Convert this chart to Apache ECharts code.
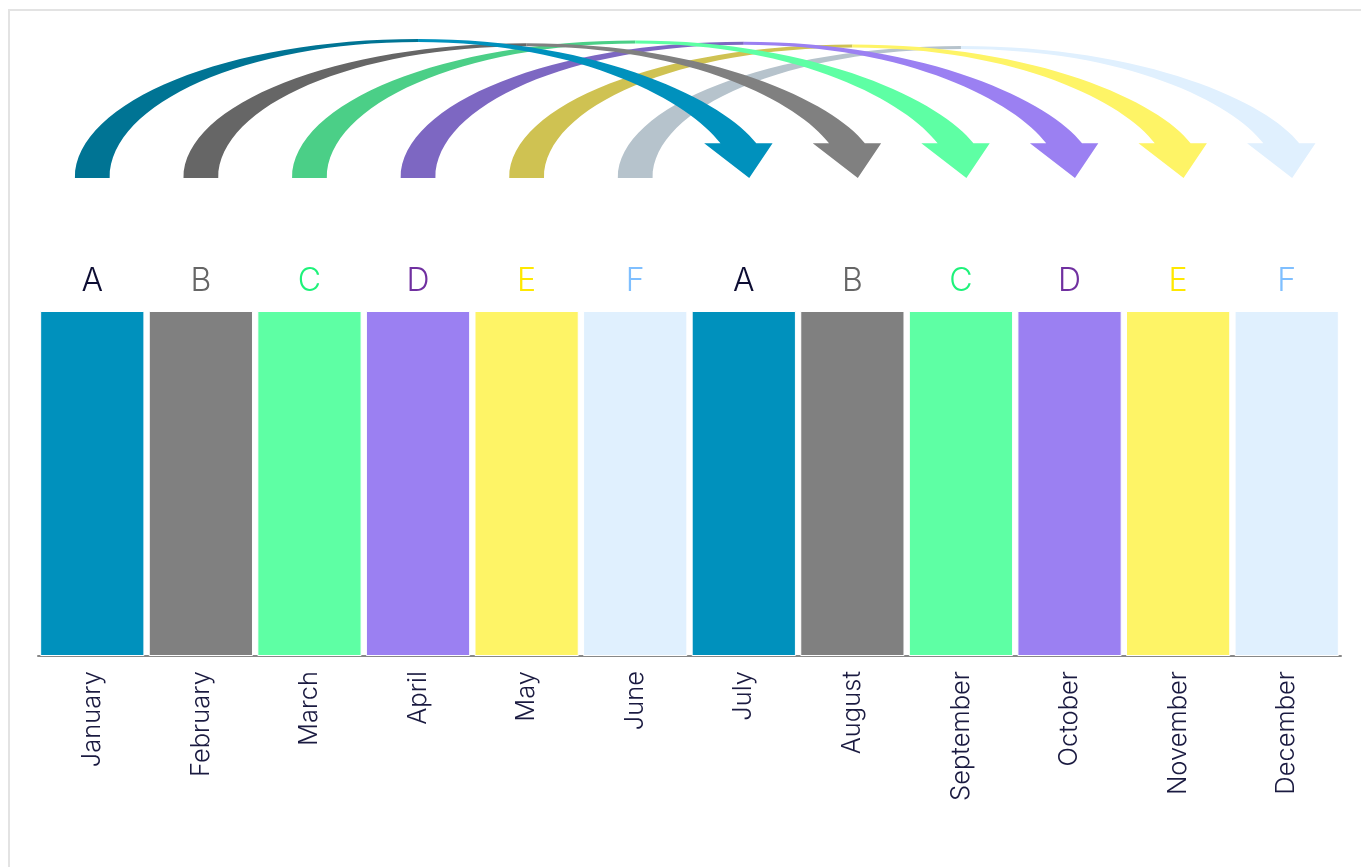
<!DOCTYPE html>
<html>
<head>
<meta charset="utf-8">
<script src="https://cdn.jsdelivr.net/npm/echarts@6/dist/echarts.min.js"></script>
<style>
  html, body { margin: 0; padding: 0; background: #fff; overflow: hidden; }
  #frame { position: absolute; left: 8px; top: 9px; width: 2000px; height: 2000px;
           border-left: 2px solid #e3e3e3; border-top: 2px solid #e3e3e3; }
  #chart { position: absolute; left: 0; top: 0; width: 1361px; height: 867px; }
</style>
</head>
<body>
<div id="frame"></div>
<div id="chart"></div>
<script>
const months = ['January','February','March','April','May','June','July','August','September','October','November','December'];
const groupLabels = ['A','B','C','D','E','F','A','B','C','D','E','F'];
const values = [1,1,1,1,1,1,1,1,1,1,1,1];
const barColors = ['#0091bd','#808080','#5effa4','#9b80f2','#fef466','#e0f0fe','#0091bd','#808080','#5effa4','#9b80f2','#fef466','#e0f0fe'];
const labelColors = ['#0d0d33','#666666','#1ef27a','#7030a0','#ffe800','#7fbfff','#0d0d33','#666666','#1ef27a','#7030a0','#ffe800','#7fbfff'];

const arrowFrom = [0,1,2,3,4,5];
const arrowTo = [6,7,8,9,10,11];
const arrowHeights = [1, 0.97, 0.99, 0.98, 0.96, 0.95];
const arrowStartColors = ['#007494','#666666','#4bcf87','#7d67c2','#cfc252','#b6c3cc'];
const arrowEndColors = ['#0091bd','#808080','#5effa4','#9b80f2','#fef466','#e0f0fe'];

const FONT = 'Inter';

const arrowData = arrowFrom.map((f, i) => [f, arrowTo[i], arrowHeights[i]]);

function geom(api) {
  const f = api.value(0), t = api.value(1), h = api.value(2);
  const pS = api.coord([f, 0]);
  const pE = api.coord([t, 0]);
  const pT = api.coord([f, h]);
  const cw = api.size([1, 0])[0];
  return { xs: pS[0], xe: pE[0], yb: pS[1], yt: pT[1], cw: cw };
}

function leftHalf(params, api) {
  const g = geom(api);
  const k = 0.5523;
  const w = 0.16 * g.cw;
  const th = 3;
  const xm = (g.xs + g.xe) / 2;
  const span = g.yb - g.yt;
  const ox = g.xs - w, ix = g.xs + w;
  const d = [
    'M', ox, g.yb,
    'C', ox, g.yb - k * span, xm - k * (xm - ox), g.yt, xm, g.yt,
    'L', xm, g.yt + th,
    'C', xm - k * (xm - ix), g.yt + th, ix, g.yb - k * (span - th), ix, g.yb,
    'Z'
  ].join(' ');
  return { type: 'path', shape: { pathData: d }, style: { fill: arrowStartColors[params.dataIndex] } };
}

function rightHalf(params, api) {
  const g = geom(api);
  const th = 3;
  const xm = (g.xs + g.xe) / 2;
  const sc = g.xe - 0.05 * g.cw;
  const sw = 0.165 * g.cw;
  const hw = 0.315 * g.cw;
  const tip = g.xe + 0.05 * g.cw;
  const yh = g.yb - 0.32 * g.cw;
  const sr = sc + sw, sl = sc - sw;
  const dx = 30, dy = 40;
  const d = [
    'M', xm, g.yt,
    'C', xm + 0.55 * (sr - xm), g.yt, sr - dx, yh - dy, sr, yh,
    'L', sc + hw, yh,
    'L', tip, g.yb,
    'L', sc - hw, yh,
    'L', sl, yh,
    'C', sl - dx, yh - dy, xm + 0.55 * (sl - xm), g.yt + th, xm, g.yt + th,
    'Z'
  ].join(' ');
  return { type: 'path', shape: { pathData: d }, style: { fill: arrowEndColors[params.dataIndex] } };
}

const chart = echarts.init(document.getElementById('chart'), null, { renderer: 'canvas' });
chart.setOption({
  animation: false,
  backgroundColor: 'transparent',
  grid: [
    { left: 38, right: 20, top: 311, bottom: 211 },
    { left: 38, right: 20, top: 39, height: 139 }
  ],
  xAxis: [
    {
      type: 'category', gridIndex: 0, data: months,
      axisLine: { lineStyle: { color: '#888888', width: 2 } },
      axisTick: { show: false },
      axisLabel: { rotate: 90, margin: 15, fontSize: 25.5, color: '#1a1a40', fontFamily: FONT, fontWeight: 300 }
    },
    { type: 'category', gridIndex: 1, data: months, show: false }
  ],
  yAxis: [
    { type: 'value', gridIndex: 0, min: 0, max: 1, show: false },
    { type: 'value', gridIndex: 1, min: 0, max: 1, show: false }
  ],
  series: [
    {
      type: 'bar', xAxisIndex: 0, yAxisIndex: 0,
      barCategoryGap: '4%',
      data: values.map((v, i) => ({
        value: v,
        itemStyle: { color: barColors[i], borderColor: '#ffffff', borderWidth: 1 },
        label: { color: labelColors[i] }
      })),
      label: {
        show: true, position: 'top', distance: 14,
        fontSize: 32, fontFamily: FONT, fontWeight: 300,
        formatter: p => groupLabels[p.dataIndex]
      }
    },
    {
      type: 'custom', xAxisIndex: 1, yAxisIndex: 1, z: 3,
      encode: { x: [0, 1], y: 2 },
      renderItem: leftHalf, data: arrowData
    },
    {
      type: 'custom', xAxisIndex: 1, yAxisIndex: 1, z: 4,
      encode: { x: [0, 1], y: 2 },
      renderItem: rightHalf, data: arrowData
    }
  ]
});
</script>
</body>
</html>
